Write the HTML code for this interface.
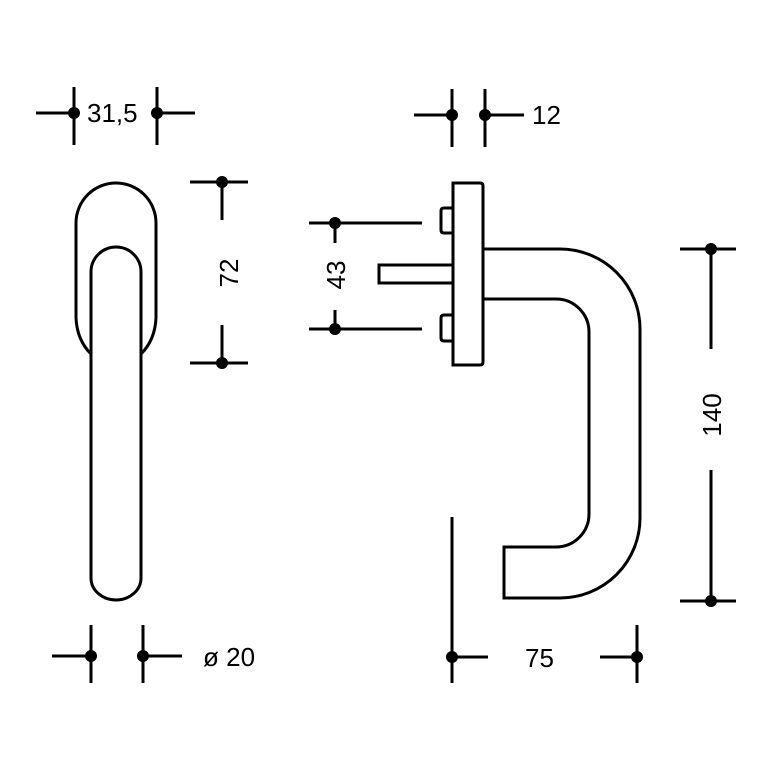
<!DOCTYPE html>
<html><head><meta charset="utf-8"><style>
html,body{margin:0;padding:0;background:#fff;}
svg{display:block;}
text{font-family:"Liberation Sans",Arial,sans-serif;font-size:26px;fill:#000;}
</style></head><body>
<svg width="772" height="772" viewBox="0 0 772 772" xmlns="http://www.w3.org/2000/svg">
<g fill="none" stroke="#000" stroke-width="3">
<path d="M91,354 Q77,340 76,318 L76,223 A40,40 0 0 1 156,223 L156,318 Q155,340 141,354"/>
<path d="M91,272 A25,25 0 0 1 141,272 L141,578 A25,22 0 0 1 91,578 Z"/>
<path d="M453,183 L480,183 Q483,183 483,186 L483,362 Q483,365 480,365 L453,365 Z"/>
<path d="M453,208 L444,208 Q441,208 441,211 L441,230 Q441,233 444,233 L453,233"/>
<path d="M453,315 L444,315 Q441,315 441,318 L441,338 Q441,341 444,341 L453,341"/>
<path d="M453,265 L379,265 L379,283 L453,283"/>
<path d="M483,249 L560,249 A80,80 0 0 1 640,329 L640,518 A80,80 0 0 1 560,598 L504,598 L504,547 L556,547 A33,33 0 0 0 589,514 L589,332 A33,33 0 0 0 556,299 L483,299"/>
<path d="M36,113 L74,113 M74,87 L74,145 M157,87 L157,145 M157,113 L195,113"/>
<path d="M190,182 L248,182 M222,182 L222,220 M222,325 L222,363 M190,363 L248,363"/>
<path d="M414,115 L452,115 M452,89 L452,147 M485,89 L485,147 M485,115 L524,115"/>
<path d="M309,223 L422,223 M309,329 L422,329 M335,223 L335,243 M335,310 L335,329"/>
<path d="M680,249 L736,249 M680,601 L736,601 M711,249 L711,349 M711,470 L711,601"/>
<path d="M52,656 L91,656 M91,625 L91,683 M143,625 L143,683 M143,656 L182,656"/>
<path d="M452,517 L452,683 M452,657 L488,657 M600,657 L637,657 M637,625 L637,683"/>
</g>
<g fill="#000">
<circle cx="74" cy="113" r="6"/><circle cx="157" cy="113" r="6"/>
<circle cx="222" cy="182" r="6"/><circle cx="222" cy="363" r="6"/>
<circle cx="452" cy="115" r="6"/><circle cx="485" cy="115" r="6"/>
<circle cx="335" cy="223" r="6"/><circle cx="335" cy="329" r="6"/>
<circle cx="711" cy="249" r="6"/><circle cx="711" cy="601" r="6"/>
<circle cx="91" cy="656" r="6"/><circle cx="143" cy="656" r="6"/>
<circle cx="452" cy="657" r="6"/><circle cx="637" cy="657" r="6"/>
</g>
<text x="87" y="122">31,5</text>
<text x="532" y="124">12</text>
<text x="203" y="666">ø 20</text>
<text x="525" y="667">75</text>
<text transform="translate(238,273) rotate(-90)" text-anchor="middle">72</text>
<text transform="translate(345,275) rotate(-90)" text-anchor="middle">43</text>
<text transform="translate(721,415) rotate(-90)" text-anchor="middle">140</text>
</svg>
</body></html>
